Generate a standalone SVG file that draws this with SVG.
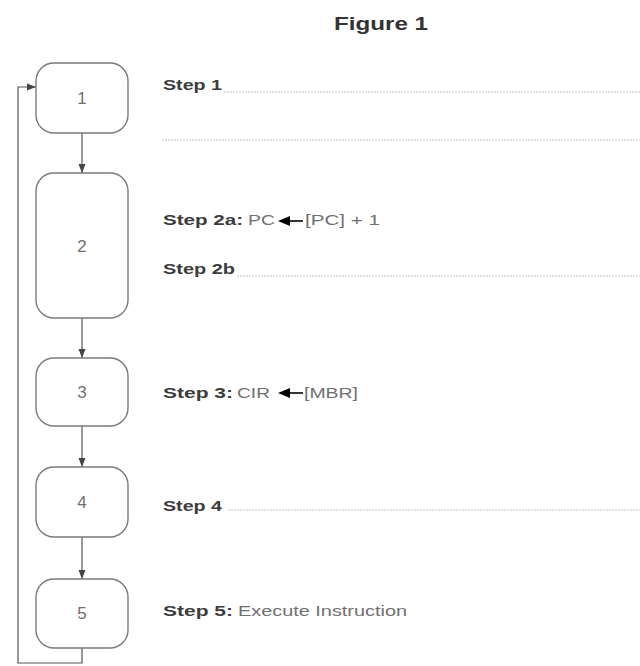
<svg xmlns="http://www.w3.org/2000/svg" width="640" height="666" viewBox="0 0 640 666">
<style>
.box{fill:#fff;stroke:#7a7a7a;stroke-width:1.4}
.num{font-family:"Liberation Sans",Arial,sans-serif;font-size:17px;fill:#707070;text-anchor:middle}
.b{font-family:"Liberation Sans",Arial,sans-serif;font-size:15px;font-weight:bold;fill:#3c3c3c}
.r{font-family:"Liberation Sans",Arial,sans-serif;font-size:15px;fill:#707070}
.conn{fill:none;stroke:#555;stroke-width:1.2}
.dot{stroke:#c4c4c4;stroke-width:1;stroke-dasharray:2 1}
.tarr{stroke:#000;stroke-width:1.6}
</style>
<defs>
<marker id="ah" markerUnits="userSpaceOnUse" markerWidth="10" markerHeight="8" refX="9" refY="4" orient="auto">
<path d="M0,0.5 L9,4 L0,7.5 z" fill="#444"/>
</marker>
</defs>
<rect width="640" height="666" fill="#fff"/>
<text x="381" y="30" text-anchor="middle" style="font-family:'Liberation Sans',Arial,sans-serif;font-size:18px;font-weight:bold;fill:#333" textLength="94" lengthAdjust="spacingAndGlyphs">Figure 1</text>

<g id="connectors">
<line class="conn" x1="82" y1="133" x2="82" y2="173" marker-end="url(#ah)"/>
<line class="conn" x1="82" y1="318" x2="82" y2="358" marker-end="url(#ah)"/>
<line class="conn" x1="82" y1="426" x2="82" y2="467" marker-end="url(#ah)"/>
<line class="conn" x1="82" y1="537" x2="82" y2="579" marker-end="url(#ah)"/>
<polyline class="conn" points="82,648 82,663 18,663 18,87 36,87" marker-end="url(#ah)"/>
</g>

<g id="node1"><rect class="box" x="36" y="63" width="92" height="70" rx="18"/><text class="num" x="82" y="104">1</text></g>
<g id="node2"><rect class="box" x="36" y="173" width="92" height="145" rx="18"/><text class="num" x="82" y="252">2</text></g>
<g id="node3"><rect class="box" x="36" y="358" width="92" height="68" rx="18"/><text class="num" x="82" y="398">3</text></g>
<g id="node4"><rect class="box" x="36" y="467" width="92" height="70" rx="18"/><text class="num" x="82" y="508">4</text></g>
<g id="node5"><rect class="box" x="36" y="579" width="92" height="69" rx="18"/><text class="num" x="82" y="619">5</text></g>

<g id="step1">
<text class="b" x="163" y="90" textLength="59" lengthAdjust="spacingAndGlyphs">Step 1</text>
<line class="dot" x1="224" y1="92" x2="640" y2="92"/>
<line class="dot" x1="162" y1="140" x2="640" y2="140"/>
</g>
<g id="step2a">
<text class="b" x="163" y="225" textLength="80" lengthAdjust="spacingAndGlyphs">Step 2a:</text>
<text class="r" x="248" y="225" textLength="27" lengthAdjust="spacingAndGlyphs">PC</text>
<line class="tarr" x1="286" y1="221" x2="303" y2="221"/>
<path d="M278,221 L290,216 L290,226 z" fill="#000"/>
<text class="r" x="305" y="225" textLength="75" lengthAdjust="spacingAndGlyphs">[PC] + 1</text>
</g>
<g id="step2b">
<text class="b" x="163" y="274" textLength="72" lengthAdjust="spacingAndGlyphs">Step 2b</text>
<line class="dot" x1="237" y1="276" x2="640" y2="276"/>
</g>
<g id="step3">
<text class="b" x="163" y="398" textLength="70" lengthAdjust="spacingAndGlyphs">Step 3:</text>
<text class="r" x="237" y="398" textLength="33" lengthAdjust="spacingAndGlyphs">CIR</text>
<line class="tarr" x1="286" y1="393" x2="303" y2="393"/>
<path d="M278,393 L290,388 L290,398 z" fill="#000"/>
<text class="r" x="304" y="398" textLength="54" lengthAdjust="spacingAndGlyphs">[MBR]</text>
</g>
<g id="step4">
<text class="b" x="163" y="511" textLength="59" lengthAdjust="spacingAndGlyphs">Step 4</text>
<line class="dot" x1="228" y1="510" x2="640" y2="510"/>
</g>
<g id="step5">
<text class="b" x="163" y="616" textLength="70" lengthAdjust="spacingAndGlyphs">Step 5:</text>
<text class="r" x="238" y="616" textLength="169" lengthAdjust="spacingAndGlyphs">Execute Instruction</text>
</g>
</svg>
